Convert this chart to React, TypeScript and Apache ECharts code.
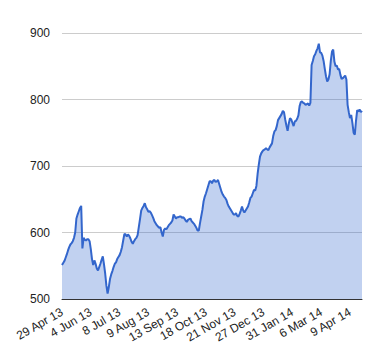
import React, { useEffect, useRef } from "react";
import * as echarts from "echarts";

// Closing prices, one per trading day from 29 Apr 13
const prices: number[] = [
  551, 554, 557, 562, 567, 573, 578, 582, 584, 587,
  592, 600, 621, 627, 632, 637, 640, 576, 592, 589,
  588, 590, 590, 587, 575, 560, 551, 558, 553, 546,
  543, 548, 553, 559, 564, 552, 538, 520, 508, 518,
  530, 537, 542, 548, 553, 555, 560, 563, 566, 571,
  578, 588, 598, 597, 594, 597, 595, 591, 586, 583,
  587, 590, 592, 596, 608, 620, 633, 637, 640, 644,
  638, 635, 631, 632, 630, 626, 622, 617, 614, 611,
  609, 607, 608, 600, 594, 604, 606, 605, 608, 611,
  613, 615, 618, 627, 624, 621, 623, 623, 624, 624,
  622, 623, 621, 618, 616, 619, 620, 621, 617, 615,
  613, 610, 607, 603, 603, 614, 624, 634, 647, 654,
  659, 665, 671, 677, 677, 674, 678, 679, 676, 677,
  679, 673, 667, 661, 657, 654, 652, 649, 643, 639,
  636, 633, 630, 627, 627, 629, 625, 624, 628, 633,
  639, 633, 630, 633, 636, 639, 645, 652, 654, 659,
  664, 663, 670, 688, 702, 714, 719, 722, 724, 725,
  727, 725, 724, 728, 731, 734, 745, 752, 754, 760,
  769, 772, 775, 778, 783, 781, 770, 761, 753, 764,
  772, 770, 765, 760, 767, 768, 771, 776, 790, 796,
  797, 795, 794, 792, 793, 794, 791, 795, 852, 858,
  865, 868, 873, 877, 884, 871, 870, 866, 858, 846,
  835, 827, 830, 838, 858, 872, 875, 857, 850, 851,
  845, 846, 837, 831, 832, 834, 836, 830, 792, 781,
  772, 777, 765, 750, 747, 768, 784, 782, 785, 781,
  783,
];

// Tick labels shown on the category axis
const tickLabels: string[] = [
  "29 Apr 13", "4 Jun 13", "8 Jul 13", "9 Aug 13", "13 Sep 13", "18 Oct 13",
  "21 Nov 13", "27 Dec 13", "31 Jan 14", "6 Mar 14", "9 Apr 14",
];

// Non-trading weekdays (exchange holidays / missing days)
const skippedDays: string[] = [
  "2013-05-06", "2013-05-27", "2013-08-26", "2013-10-01",
  "2013-12-25", "2013-12-26", "2014-01-01", "2014-04-18", "2014-04-21",
];

const monthNames = ["Jan", "Feb", "Mar", "Apr", "May", "Jun", "Jul", "Aug", "Sep", "Oct", "Nov", "Dec"];

function buildDates(count: number): string[] {
  const out: string[] = [];
  let t = Date.UTC(2013, 3, 29);
  while (out.length < count) {
    const d = new Date(t);
    const wd = d.getUTCDay();
    const iso = d.toISOString().slice(0, 10);
    if (wd !== 0 && wd !== 6 && !skippedDays.includes(iso)) {
      out.push(`${d.getUTCDate()} ${monthNames[d.getUTCMonth()]} ${String(d.getUTCFullYear()).slice(2)}`);
    }
    t += 86400000;
  }
  return out;
}

const dates = buildDates(prices.length);

export default function App() {
  const ref = useRef<HTMLDivElement>(null);
  useEffect(() => {
    if (!ref.current) return;
    const chart = echarts.init(ref.current, null, { renderer: "svg" });
    const font = "Arial, 'Liberation Sans', sans-serif";
    chart.setOption({
      animation: false,
      backgroundColor: "#ffffff",
      grid: { left: 62, right: 18, top: 33, bottom: 61, containLabel: false },
      xAxis: {
        type: "category",
        data: dates,
        boundaryGap: false,
        axisLine: { show: true, lineStyle: { color: "#333333", width: 1 } },
        axisTick: { show: false },
        splitLine: { show: false },
        axisLabel: {
          interval: (_i: number, v: string) => tickLabels.includes(v),
          rotate: 30,
          margin: 12,
          color: "#222222",
          fontSize: 12,
          fontFamily: font,
        },
      },
      yAxis: {
        type: "value",
        min: 500,
        max: 900,
        interval: 100,
        axisLine: { show: false },
        axisTick: { show: false },
        splitLine: { show: true, lineStyle: { color: "#cccccc", width: 1 } },
        axisLabel: {
          color: "#222222",
          fontSize: 12,
          fontFamily: font,
          margin: 12,
        },
      },
      series: [
        {
          type: "line",
          data: prices,
          showSymbol: false,
          symbol: "none",
          lineStyle: { color: "#3366cc", width: 2 },
          itemStyle: { color: "#3366cc" },
          areaStyle: { color: "#3366cc", opacity: 0.3 },
        },
      ],
    });
    return () => chart.dispose();
  }, []);
  return (
    <div
      ref={ref}
      style={{ position: "fixed", left: 0, top: 0, width: 380, height: 360 }}
    />
  );
}
